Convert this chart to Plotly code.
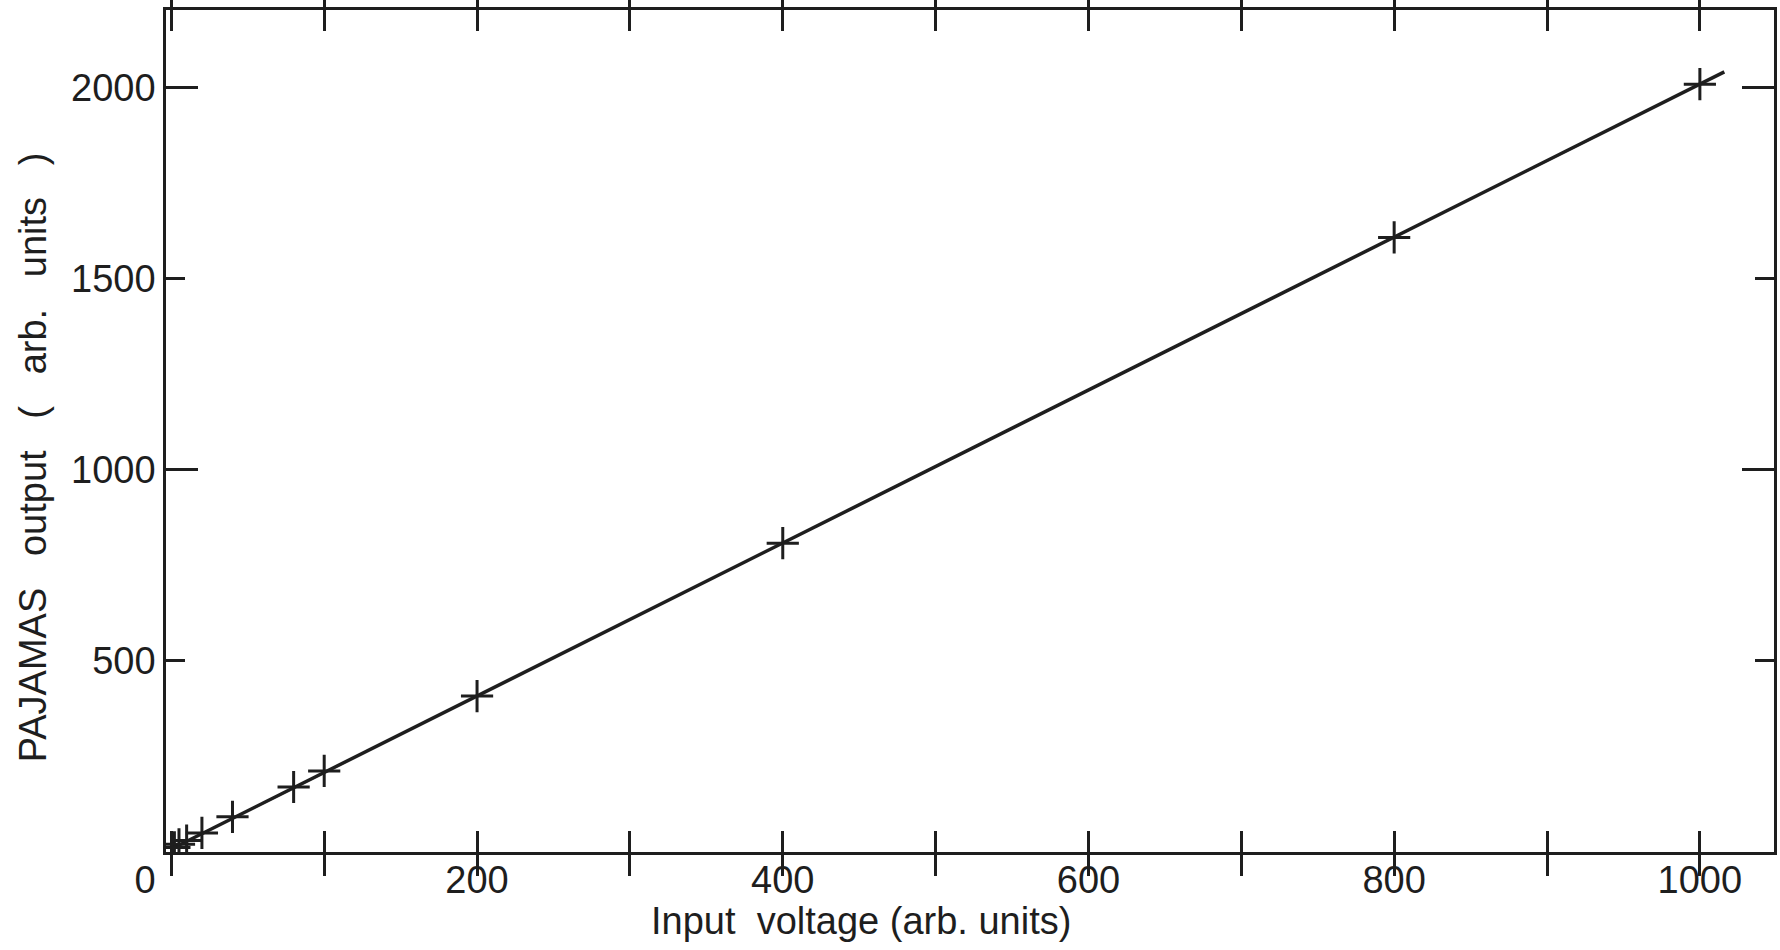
import plotly.graph_objects as go

# ---- data ----
input_voltage = [2, 5, 10, 20, 40, 80, 100, 200, 400, 800, 1000]
pajamas_output = [12, 20, 30, 50, 92, 170, 212, 408, 808, 1608, 2009]

fit_x = [0, 1016]
fit_y = [8, 2041]

x_tick_vals = [0, 100, 200, 300, 400, 500, 600, 700, 800, 900, 1000]
x_tick_text = ["0\u00a0\u00a0\u00a0\u00a0\u00a0", "", "200", "", "400", "", "600", "", "800", "", "1000"]
y_tick_vals = [500, 1000, 1500, 2000]
y_tick_text = ["500", "1000", "1500", "2000"]
y_major_vals = [1000, 2000]

x_range = [-3.5, 1048.5]
y_range = [0, 2203]

INK = "#1e1e1e"
FONT = "Liberation Sans, Arial, sans-serif"

W, H = 1780, 950
ML, MR, MT, MB = 166, 3, 10, 98
PW, PH = W - ML - MR, H - MT - MB

fig = go.Figure()

fig.add_trace(go.Scatter(
    x=fit_x, y=fit_y, mode="lines",
    line=dict(color=INK, width=3.5),
    showlegend=False, hoverinfo="skip",
))
fig.add_trace(go.Scatter(
    x=input_voltage, y=pajamas_output, mode="markers",
    marker=dict(symbol="cross-thin", size=23, line=dict(color=INK, width=3)),
    showlegend=False,
))
# empty trace to carry the long-tick overlay axis
fig.add_trace(go.Scatter(x=[], y=[], yaxis="y2", showlegend=False, hoverinfo="skip"))

axis_common = dict(
    showgrid=False, zeroline=False,
    showline=True, linecolor=INK, linewidth=2.5,
    ticks="inside", tickcolor=INK, tickwidth=2.5,
    mirror="allticks",
    tickfont=dict(family=FONT, size=38, color=INK),
)

fig.update_layout(
    width=W, height=H,
    margin=dict(l=ML, r=MR, t=MT, b=MB, pad=0),
    paper_bgcolor="white", plot_bgcolor="white",
    xaxis=dict(
        range=x_range, tickmode="array",
        tickvals=x_tick_vals, ticktext=x_tick_text,
        ticklen=21, ticklabelstandoff=-7, **axis_common,
    ),
    yaxis=dict(
        range=y_range, tickmode="array",
        tickvals=y_tick_vals, ticktext=y_tick_text,
        ticklen=19, **axis_common,
    ),
    yaxis2=dict(
        range=y_range, overlaying="y", side="left", anchor="x",
        tickmode="array", tickvals=y_major_vals,
        showticklabels=False, showgrid=False, zeroline=False,
        showline=False, ticks="inside", ticklen=32,
        tickcolor=INK, tickwidth=2.5, mirror="allticks",
    ),
    annotations=[
        dict(
            text="Input  voltage (arb. units)",
            xref="paper", yref="paper",
            x=(862 - ML) / PW, y=-(921 - (H - MB)) / PH,
            xanchor="center", yanchor="middle", showarrow=False,
            font=dict(family=FONT, size=38, color=INK),
        ),
        dict(
            text="PAJAMAS   output   (   arb.   units   )",
            xref="paper", yref="paper",
            x=-(ML - 33) / PW, y=(H - MB - 457) / PH,
            xanchor="center", yanchor="middle", showarrow=False,
            textangle=-90,
            font=dict(family=FONT, size=38, color=INK),
        ),
    ],
)

fig.write_html("out.html")
